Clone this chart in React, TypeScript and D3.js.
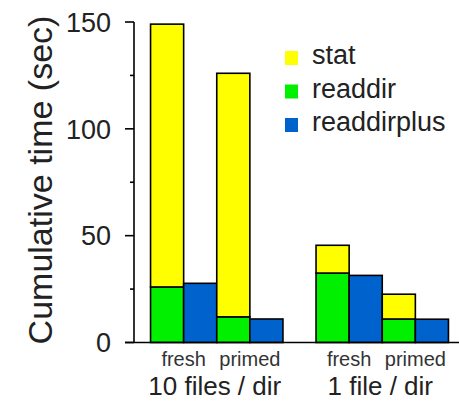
import React from "react";
import * as d3 from "d3";

const groups = ["10 files / dir", "1 file / dir"];
const conditions = ["fresh", "primed"];
const series = ["stat", "readdir", "readdirplus"];
// order: [10 fresh, 10 primed, 1 fresh, 1 primed]
const readdirValues = [26, 12, 32.5, 11];
const statValues = [123, 114, 13, 11.6];
const readdirplusValues = [27.7, 11, 31.4, 10.9];
const yTicks = [0, 50, 100, 150];
const yMinorTicks = [25, 75, 125];

const colors: Record<string, string> = {
  stat: "#FFFF00",
  readdir: "#00F000",
  readdirplus: "#0062CC",
};

const W = 459;
const H = 401;
const FONT = "'Liberation Sans', Arial, Helvetica, sans-serif";

export default function App() {
  const axisX = 134;
  const y = d3.scaleLinear().domain([0, 150]).range([342.5, 22]);
  const xGroup = d3
    .scaleBand<string>()
    .domain(groups)
    .range([134, 465])
    .paddingInner(0.2)
    .paddingOuter(0.1);
  const slots = ["fresh-rd", "fresh-rdp", "primed-rd", "primed-rdp"];
  const xInner = d3.scaleBand<string>().domain(slots).range([0, xGroup.bandwidth()]).padding(0);
  const bw = xInner.bandwidth();

  const bars: JSX.Element[] = [];
  const pairLabels: JSX.Element[] = [];
  groups.forEach((g, gi) => {
    const gx = xGroup(g)!;
    conditions.forEach((c, ci) => {
      const idx = gi * 2 + ci;
      const rdX = gx + xInner(`${c}-rd`)!;
      const rdpX = gx + xInner(`${c}-rdp`)!;
      const rd = readdirValues[idx];
      const st = statValues[idx];
      const rdp = readdirplusValues[idx];
      bars.push(
        <rect key={`rd-${idx}`} x={rdX} width={bw} y={y(rd)} height={y(0) - y(rd)} fill={colors.readdir} stroke="#000" strokeWidth={1.6} />,
        <rect key={`st-${idx}`} x={rdX} width={bw} y={y(rd + st)} height={y(rd) - y(rd + st)} fill={colors.stat} stroke="#000" strokeWidth={1.6} />,
        <rect key={`rdp-${idx}`} x={rdpX} width={bw} y={y(rdp)} height={y(0) - y(rdp)} fill={colors.readdirplus} stroke="#000" strokeWidth={1.6} />
      );
      pairLabels.push(
        <text key={`pl-${idx}`} x={rdX + bw} y={366} textAnchor="middle" fontSize={20} fill="#333" fontFamily={FONT}>
          {c}
        </text>
      );
    });
  });

  return (
    <svg width={W} height={H} style={{ position: "absolute", left: 0, top: 0, background: "#fff" }}>
      <rect x={0} y={0} width={W} height={H} fill="#fff" />
      {bars}
      {/* axes */}
      <line x1={axisX} x2={axisX} y1={y(150)} y2={y(0)} stroke="#000" strokeWidth={1.6} />
      <line x1={125} x2={W} y1={y(0)} y2={y(0)} stroke="#000" strokeWidth={1.6} />
      {yTicks.map((t) => (
        <g key={`t${t}`}>
          <line x1={125} x2={axisX} y1={y(t)} y2={y(t)} stroke="#000" strokeWidth={1.6} />
          <text x={111} y={y(t)} dy="0.36em" textAnchor="end" fontSize={27} fill="#222" fontFamily={FONT}>
            {t}
          </text>
        </g>
      ))}
      {yMinorTicks.map((t) => (
        <line key={`m${t}`} x1={130} x2={axisX} y1={y(t)} y2={y(t)} stroke="#000" strokeWidth={1.6} />
      ))}
      <text
        transform={`translate(52,180) rotate(-90)`}
        textAnchor="middle"
        fontSize={34}
        fill="#222"
        fontFamily={FONT}
      >
        Cumulative time (sec)
      </text>
      {pairLabels}
      {groups.map((g) => (
        <text key={g} x={xGroup(g)! + xGroup.bandwidth() / 2 - 2} y={395} textAnchor="middle" fontSize={26} fill="#222" fontFamily={FONT}>
          {g}
        </text>
      ))}
      {series.map((s, i) => (
        <g key={s}>
          <rect x={285} y={51 + i * 33.5} width={13} height={14} fill={colors[s]} />
          <text x={312} y={64 + i * 33.5} fontSize={27} fill="#222" fontFamily={FONT}>
            {s}
          </text>
        </g>
      ))}
    </svg>
  );
}
